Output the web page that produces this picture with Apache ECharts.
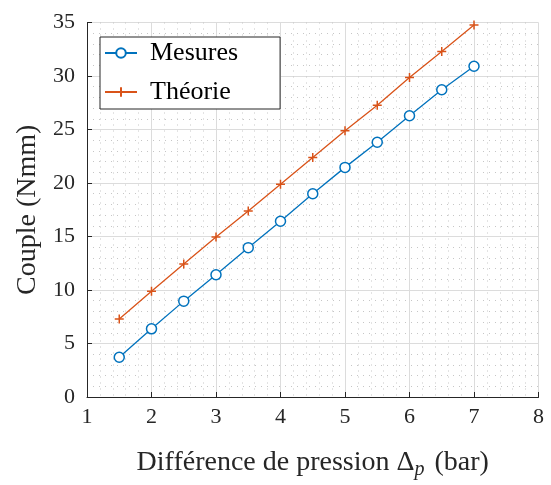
<!DOCTYPE html>
<html>
<head>
<meta charset="utf-8">
<script src="https://cdn.jsdelivr.net/npm/echarts@6/dist/echarts.min.js"></script>
<style>
html,body{margin:0;padding:0;background:#fff;}
#c{width:551px;height:485px;}
</style>
</head>
<body>
<div id="c"></div>
<script>
const pressure = [1.5, 2, 2.5, 3, 3.5, 4, 4.5, 5, 5.5, 6, 6.5, 7];
const mesures = [3.72, 6.37, 8.96, 11.43, 13.96, 16.43, 19.0, 21.46, 23.81, 26.28, 28.72, 30.91];
const theorie = [7.30, 9.89, 12.42, 14.95, 17.39, 19.89, 22.39, 24.89, 27.27, 29.85, 32.3, 34.77];
const seriesNames = ['Mesures', 'Théorie'];
const xName = 'Différence de pression Δ{sub|p} (bar)';
const yName = 'Couple (Nmm)';

const FONT = '"Liberation Serif", "Times New Roman", serif';
const chart = echarts.init(document.getElementById('c'), null, {renderer: 'canvas'});

function pairs(xs, ys) { return xs.map((x, i) => [x, ys[i]]); }

const axisCommon = {
  axisLine: {show: true, onZero: false, lineStyle: {color: '#262626', width: 1}},
  axisTick: {show: true, inside: true, length: 5, lineStyle: {color: '#262626', width: 1}},
  splitLine: {show: true, lineStyle: {color: '#dcdcdc', width: 1}},
  minorTick: {show: false, splitNumber: 5},
  minorSplitLine: {show: true, lineStyle: {color: '#c6c6c6', width: 1, type: [1, 5]}},
  axisLabel: {color: '#262626', fontFamily: FONT, fontSize: 22}
};

chart.setOption({
  animation: false,
  backgroundColor: '#fff',
  grid: {left: 87, right: 12.5, top: 22.5, bottom: 84.5, containLabel: false},
  xAxis: Object.assign({}, axisCommon, {
    type: 'value', min: 1, max: 8, interval: 1,
    axisLabel: Object.assign({}, axisCommon.axisLabel, {margin: 9}),
    name: xName, nameLocation: 'middle', nameGap: 49,
    nameTextStyle: {color: '#262626', fontFamily: FONT, fontSize: 28,
      rich: {sub: {fontFamily: FONT, fontSize: 20, fontStyle: 'italic', color: '#262626', padding: [14, 3, 0, 0]}}}
  }),
  yAxis: Object.assign({}, axisCommon, {
    type: 'value', min: 0, max: 35, interval: 5,
    axisLabel: Object.assign({}, axisCommon.axisLabel, {margin: 12}),
    name: yName, nameLocation: 'middle', nameGap: 45,
    nameTextStyle: {color: '#262626', fontFamily: FONT, fontSize: 28}
  }),
  legend: {
    orient: 'vertical', left: 100, top: 37,
    backgroundColor: '#fff', borderColor: '#262626', borderWidth: 1,
    padding: [3, 42, 4, 4],
    itemWidth: 32, itemHeight: 12, itemGap: 13,
    textStyle: {color: '#000', fontFamily: FONT, fontSize: 26, padding: [0, 0, 0, 8]},
    data: seriesNames
  },
  series: [
    {
      name: seriesNames[0], type: 'line', data: pairs(pressure, mesures),
      symbol: 'circle', symbolSize: 10, showSymbol: true,
      lineStyle: {color: '#0072BD', width: 1.3},
      itemStyle: {color: '#fff', borderColor: '#0072BD', borderWidth: 1.5}
    },
    {
      name: seriesNames[1], type: 'line', data: pairs(pressure, theorie),
      symbol: 'path://M5,0L5,10M0,5L10,5', symbolSize: 9, showSymbol: true,
      lineStyle: {color: '#D95319', width: 1.3},
      itemStyle: {color: '#D95319', borderColor: '#D95319', borderWidth: 1.5}
    }
  ]
});
</script>
</body>
</html>
